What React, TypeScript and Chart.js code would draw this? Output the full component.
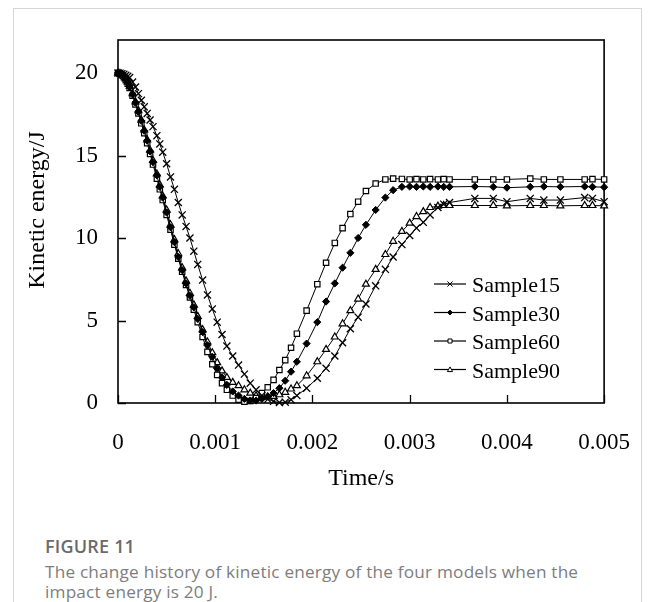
import React, { useEffect, useRef } from 'react';
import { Chart, registerables } from 'chart.js';

Chart.register(...registerables);

// time in seconds
const timeS = [
  0, 0.00002, 0.00004, 0.00006, 0.00008, 0.0001, 0.00012, 0.00015, 0.00018, 0.00021,
  0.00024, 0.00027, 0.0003, 0.00033, 0.00036, 0.0004, 0.00043, 0.00046, 0.0005, 0.00054,
  0.00058, 0.00062, 0.00066, 0.0007, 0.00074, 0.00078, 0.00082, 0.00087, 0.00092, 0.00097,
  0.00102, 0.00107, 0.00112, 0.00118, 0.00124, 0.0013, 0.00136, 0.00142, 0.00148, 0.00154,
  0.0016, 0.00166, 0.00172, 0.00178, 0.00184, 0.00194, 0.00205, 0.00214, 0.00223, 0.00231,
  0.00239, 0.00247, 0.00255, 0.00265, 0.00275, 0.00283, 0.00292, 0.003, 0.00307, 0.00314,
  0.00321, 0.00329, 0.00335, 0.00341, 0.00367, 0.00386, 0.004, 0.00424, 0.00438, 0.00455,
  0.0048, 0.00488, 0.005,
];

const sample15 = [
  20.0, 19.99, 19.96, 19.92, 19.86, 19.8, 19.72, 19.45, 19.15, 18.75,
  18.35, 17.95, 17.55, 17.15, 16.75, 16.2, 15.7, 15.2, 14.5, 13.7,
  12.95, 12.15, 11.4, 10.7, 10.0, 9.2, 8.4, 7.45, 6.55, 5.7,
  4.9, 4.15, 3.45, 2.85, 2.3, 1.75, 1.2, 0.8, 0.45, 0.22,
  0.1, 0.03, 0.05, 0.2, 0.45, 0.9, 1.5, 2.1, 2.85, 3.65,
  4.5, 5.2, 6.0, 7.1, 8.1, 8.85, 9.6, 10.15, 10.6, 10.95,
  11.4, 11.85, 12.05, 12.15, 12.4, 12.4, 12.2, 12.4, 12.3, 12.3,
  12.45, 12.4, 12.2,
];

const sample30 = [
  20.0, 19.97, 19.9, 19.78, 19.6, 19.4, 19.15, 18.7, 18.2, 17.65,
  17.1, 16.5, 15.9, 15.25, 14.6, 13.8, 13.1, 12.45, 11.55, 10.65,
  9.75, 8.85, 8.05, 7.25, 6.5, 5.8, 5.1, 4.3, 3.5, 2.8,
  2.1, 1.55, 1.1, 0.7, 0.45, 0.25, 0.15, 0.15, 0.25, 0.4,
  0.6, 0.9, 1.35, 1.9, 2.5, 3.6, 4.9, 6.15, 7.25, 8.2,
  9.1, 10.0, 10.8, 11.7, 12.45, 12.9, 13.1, 13.12, 13.1, 13.12,
  13.1, 13.12, 13.1, 13.1, 13.12, 13.1, 13.05, 13.1, 13.12, 13.1,
  13.12, 13.1, 13.08,
];

const sample60 = [
  20.0, 19.96, 19.88, 19.75, 19.57, 19.35, 19.1, 18.62, 18.1, 17.55,
  16.95, 16.35, 15.75, 15.1, 14.45, 13.6, 12.95, 12.3, 11.4, 10.5,
  9.6, 8.75, 7.95, 7.15, 6.4, 5.65, 4.9, 4.0, 3.1, 2.35,
  1.7, 1.2, 0.8, 0.45, 0.2, 0.08, 0.12, 0.3, 0.6, 0.95,
  1.4, 2.0, 2.6, 3.35, 4.2, 5.6, 7.2, 8.5, 9.7, 10.6,
  11.45, 12.2, 12.85, 13.3, 13.55, 13.6, 13.58, 13.55, 13.57, 13.55,
  13.57, 13.55, 13.57, 13.55, 13.55, 13.55, 13.55, 13.6, 13.55, 13.55,
  13.55, 13.57, 13.55,
];

const sample90 = [
  20.0, 19.97, 19.91, 19.8, 19.64, 19.44, 19.2, 18.75, 18.25, 17.72,
  17.15, 16.55, 15.95, 15.32, 14.7, 13.88, 13.22, 12.55, 11.7, 10.8,
  9.9, 9.05, 8.2, 7.4, 6.65, 5.95, 5.25, 4.45, 3.7, 3.05,
  2.45, 1.95, 1.55, 1.25, 1.05, 0.8, 0.6, 0.45, 0.38, 0.36,
  0.4, 0.5, 0.65, 0.85, 1.05, 1.65, 2.5, 3.25, 4.0, 4.8,
  5.6, 6.3, 7.2, 8.1, 9.0, 9.8, 10.4, 10.9, 11.3, 11.6,
  11.85, 11.93, 11.97, 11.97, 11.97, 11.97, 11.95, 11.97, 11.97, 11.95,
  11.97, 11.97, 11.95,
];

const seriesNames = ['Sample15', 'Sample30', 'Sample60', 'Sample90'];
const seriesValues = [sample15, sample30, sample60, sample90];
const xTickValues = [0, 0.001, 0.002, 0.003, 0.004, 0.005];
const yTickValues = [0, 5, 10, 15, 20];
const xTitle = 'Time/s';
const yTitle = 'Kinetic energy/J';

const SERIF = '"Liberation Serif", "Times New Roman", serif';

const markerStyles = [
  { pointStyle: 'crossRot', pointRadius: 5, pointBorderWidth: 1.3, pointBackgroundColor: '#000' },
  { pointStyle: 'rectRot', pointRadius: 3.6, pointBorderWidth: 1, pointBackgroundColor: '#000' },
  { pointStyle: 'rect', pointRadius: 3.8, pointBorderWidth: 1.2, pointBackgroundColor: '#fff' },
  { pointStyle: 'triangle', pointRadius: 4, pointBorderWidth: 1.2, pointBackgroundColor: '#fff' },
];

function drawMarker(ctx: CanvasRenderingContext2D, kind: number, x: number, y: number) {
  ctx.save();
  ctx.strokeStyle = '#000';
  ctx.lineWidth = 1;
  ctx.beginPath();
  if (kind === 0) {
    const r = 2.6;
    ctx.moveTo(x - r, y - r); ctx.lineTo(x + r, y + r);
    ctx.moveTo(x + r, y - r); ctx.lineTo(x - r, y + r);
    ctx.stroke();
  } else if (kind === 1) {
    const r = 2.4;
    ctx.moveTo(x, y - r); ctx.lineTo(x + r, y); ctx.lineTo(x, y + r); ctx.lineTo(x - r, y);
    ctx.closePath();
    ctx.fillStyle = '#000';
    ctx.fill();
    ctx.stroke();
  } else if (kind === 2) {
    const r = 2;
    ctx.fillStyle = '#fff';
    ctx.rect(x - r, y - r, 2 * r, 2 * r);
    ctx.fill();
    ctx.stroke();
  } else {
    const r = 2.6;
    ctx.moveTo(x, y - r); ctx.lineTo(x + r, y + r * 0.8); ctx.lineTo(x - r, y + r * 0.8);
    ctx.closePath();
    ctx.fillStyle = '#fff';
    ctx.fill();
    ctx.stroke();
  }
  ctx.restore();
}

const framePlugin = {
  id: 'frameTicks',
  beforeDatasetsDraw(chart: any) {
    const { ctx, chartArea } = chart;
    const { left, top, right, bottom } = chartArea;
    const xs = chart.scales.x;
    const ys = chart.scales.y;
    ctx.save();
    ctx.strokeStyle = '#000';
    ctx.lineWidth = 1.6;
    ctx.strokeRect(left, top, right - left, bottom - top);
    ctx.beginPath();
    ys.ticks.forEach((t: any) => {
      const py = Math.round(ys.getPixelForValue(t.value)) + 0.5;
      ctx.moveTo(left, py);
      ctx.lineTo(left + 8, py);
    });
    xs.ticks.forEach((t: any) => {
      const px = Math.round(xs.getPixelForValue(t.value)) + 0.5;
      ctx.moveTo(px, bottom);
      ctx.lineTo(px, bottom - 8);
    });
    ctx.lineWidth = 1.3;
    ctx.stroke();
    ctx.restore();
  },
  afterDatasetsDraw(chart: any) {
    const { ctx, chartArea } = chart;
    const x0 = chartArea.left + 316;
    const x1 = chartArea.left + 348;
    ctx.save();
    ctx.font = `22px ${SERIF}`;
    ctx.fillStyle = '#000';
    ctx.textBaseline = 'alphabetic';
    ctx.textAlign = 'left';
    seriesNames.forEach((name, i) => {
      const yRow = chartArea.top + 244 + i * 28.5;
      ctx.beginPath();
      ctx.strokeStyle = '#000';
      ctx.lineWidth = 1.2;
      ctx.moveTo(x0, yRow);
      ctx.lineTo(x1, yRow);
      ctx.stroke();
      drawMarker(ctx, i, (x0 + x1) / 2, yRow);
      ctx.fillText(name, x1 + 6, yRow + 8);
    });
    // y-axis title (rotated)
    ctx.save();
    ctx.translate(38, chartArea.top + 170);
    ctx.rotate(-Math.PI / 2);
    ctx.font = `24px ${SERIF}`;
    ctx.textAlign = 'center';
    ctx.textBaseline = 'middle';
    ctx.fillText(yTitle, 0, 0);
    ctx.restore();
    ctx.restore();
  },
};

export default function App() {
  const ref = useRef<HTMLCanvasElement | null>(null);

  useEffect(() => {
    if (!ref.current) return;
    const datasets = seriesNames.map((name, i) => ({
      label: name,
      data: timeS.map((t, k) => ({ x: t, y: seriesValues[i][k] })),
      borderColor: '#000',
      borderWidth: 1,
      pointBorderColor: '#000',
      tension: 0,
      clip: false as any,
      ...markerStyles[i],
    }));
    const chart = new Chart(ref.current, {
      type: 'line',
      data: { datasets: datasets as any },
      options: {
        animation: false,
        responsive: false,
        events: [],
        layout: { padding: { left: 0, top: 40, right: 49, bottom: 0 } },
        plugins: { legend: { display: false }, tooltip: { enabled: false } },
        scales: {
          x: {
            type: 'linear',
            min: 0,
            max: 0.005,
            afterBuildTicks: (scale: any) => {
              scale.ticks = xTickValues.map((v) => ({ value: v }));
            },
            afterFit: (scale: any) => {
              scale.height = 97;
            },
            grid: { display: false, drawTicks: false },
            border: { display: false },
            ticks: {
              autoSkip: false,
              maxRotation: 0,
              padding: 26,
              color: '#000',
              font: { family: SERIF, size: 23 },
              callback: (v: any) => (v === 0 ? '0' : Number(v).toFixed(3)),
            },
            title: {
              display: true,
              text: xTitle,
              color: '#000',
              font: { family: SERIF, size: 24 },
              padding: { top: 0, bottom: 7 },
            },
          },
          y: {
            type: 'linear',
            min: 0,
            max: 22,
            afterBuildTicks: (scale: any) => {
              scale.ticks = yTickValues.map((v) => ({ value: v }));
            },
            afterFit: (scale: any) => {
              scale.width = 118;
            },
            grid: { display: false, drawTicks: false },
            border: { display: false },
            ticks: {
              autoSkip: false,
              padding: 20,
              color: '#000',
              font: { family: SERIF, size: 23 },
              callback: (v: any) => String(v),
            },
            title: { display: false },
          },
        },
      },
      plugins: [framePlugin],
    });
    return () => chart.destroy();
  }, []);

  return (
    <div style={{ position: 'absolute', left: 0, top: 0, width: 656, height: 602, overflow: 'hidden', background: '#fff' }}>
      <div
        style={{
          position: 'absolute',
          left: 13,
          top: 8,
          width: 629,
          height: 620,
          border: '1px solid #d6d6d6',
          boxSizing: 'border-box',
        }}
      />
      <canvas ref={ref} width={656} height={500} style={{ position: 'absolute', left: 0, top: 0, display: 'block' }} />
      <div
        style={{
          position: 'absolute',
          left: 45,
          top: 536,
          fontFamily: '"Open Sans", "Noto Sans", sans-serif',
          fontWeight: 600,
          fontSize: 18,
          letterSpacing: 0.2,
          lineHeight: '21px',
          color: '#6a6a6a',
          whiteSpace: 'nowrap',
        }}
      >
        FIGURE 11
      </div>
      <div
        style={{
          position: 'absolute',
          left: 45,
          top: 562,
          fontFamily: '"Open Sans", "Noto Sans", sans-serif',
          fontWeight: 400,
          fontSize: 17.2,
          letterSpacing: 0.2,
          lineHeight: '20px',
          color: '#7d7d7d',
          whiteSpace: 'nowrap',
        }}
      >
        The change history of kinetic energy of the four models when the
        <br />
        impact energy is 20 J.
      </div>
    </div>
  );
}
